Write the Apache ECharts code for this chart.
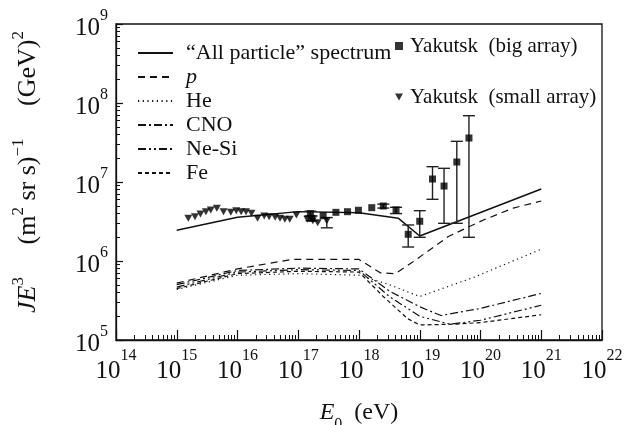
<!DOCTYPE html>
<html>
<head>
<meta charset="utf-8">
<script src="https://cdn.jsdelivr.net/npm/echarts@6/dist/echarts.min.js"></script>
<style>html,body{margin:0;padding:0;background:#fff}#main{width:629px;height:425px}</style>
</head>
<body>
<div id="main"></div>
<script>
var chart = echarts.init(document.getElementById('main'));
var FONT = 'Liberation Serif';

// all values are log10: x = log10(E0 / eV), y = log10(J E^3)
var xDecades = [14, 15, 16, 17, 18, 19, 20, 21, 22];
var yDecades = [5, 6, 7, 8, 9];

var allE = [15, 16, 17, 18, 18.65, 19.0, 21];
var allJ = [6.39, 6.553, 6.625, 6.61, 6.54, 6.316, 6.911];

var pE = [15, 16, 16.9, 18.0, 18.35, 18.6, 18.89, 19.47, 20.05, 20.54, 21];
var pJ = [5.72, 5.90, 6.02, 6.02, 5.85, 5.84, 5.99, 6.31, 6.52, 6.67, 6.76];

var heE = [15, 16, 17, 18, 18.5, 19, 19.88, 21];
var heJ = [5.64, 5.82, 5.84, 5.82, 5.70, 5.55, 5.79, 6.15];

var cnoE = [15, 16, 17, 18, 18.5, 19.0, 19.35, 20, 21];
var cnoJ = [5.70, 5.88, 5.91, 5.90, 5.62, 5.42, 5.31, 5.40, 5.59];

var nesiE = [15, 16, 17, 18, 18.5, 19, 19.5, 20, 21];
var nesiJ = [5.67, 5.86, 5.89, 5.88, 5.55, 5.30, 5.20, 5.25, 5.44];

var feE = [15, 16, 17, 18, 18.4, 18.8, 19.0, 19.55, 20, 21];
var feJ = [5.65, 5.84, 5.87, 5.86, 5.55, 5.27, 5.19, 5.20, 5.22, 5.32];

// Yakutsk big array (squares)
var bigE = [17.20, 17.22, 17.41, 17.62, 17.81, 17.99, 18.21, 18.40, 18.61, 18.81, 19.00, 19.21, 19.40, 19.61, 19.81];
var bigJ = [6.60, 6.54, 6.574, 6.616, 6.624, 6.642, 6.675, 6.696, 6.646, 6.338, 6.503, 7.038, 6.949, 7.253, 7.557];

// Yakutsk small array (triangles)
var smallE = [15.19, 15.30, 15.39, 15.48, 15.56, 15.66, 15.77, 15.89, 15.98, 16.06, 16.14, 16.23, 16.33, 16.44, 16.52, 16.62, 16.70, 16.78, 16.86, 16.97, 17.15, 17.24, 17.32, 17.47];
var smallJ = [6.541, 6.561, 6.595, 6.624, 6.646, 6.667, 6.624, 6.616, 6.637, 6.624, 6.624, 6.604, 6.541, 6.570, 6.561, 6.553, 6.541, 6.528, 6.528, 6.582, 6.528, 6.510, 6.485, 6.510];

// error bars: energy, low, high
var errE = [17.20, 17.22, 17.47, 18.40, 18.61, 18.81, 19.00, 19.21, 19.40, 19.61, 19.81];
var errLo = [6.57, 6.51, 6.42, 6.67, 6.60, 6.177, 6.300, 6.781, 6.477, 6.477, 6.300];
var errHi = [6.63, 6.57, 6.55, 6.72, 6.68, 6.456, 6.637, 7.194, 7.173, 7.515, 7.839];

function zip(a, b) {
  var out = [];
  for (var i = 0; i < a.length; i++) out.push([a[i], b[i]]);
  return out;
}

function minorTicks(decades) {
  var out = [];
  for (var i = 0; i < decades.length - 1; i++) {
    for (var k = 2; k <= 9; k++) out.push(decades[i] + Math.log10(k));
  }
  return out;
}

var errData = [];
for (var i = 0; i < errE.length; i++) errData.push([errE[i], errLo[i], errHi[i]]);

function lineSeries(name, e, j, type, width) {
  return {
    name: name,
    type: 'line',
    data: zip(e, j),
    symbol: 'none',
    lineStyle: {color: '#111', width: width || 1.2, type: type},
    itemStyle: {color: '#111'},
    z: 3
  };
}

var labelRich = function (supPad) {
  return {
    b: {fontSize: 25, fontFamily: FONT, color: '#111', verticalAlign: 'bottom'},
    s: {fontSize: 16, fontFamily: FONT, color: '#111', verticalAlign: 'top', padding: [0, 0, supPad, 0]}
  };
};

var option = {
  animation: false,
  backgroundColor: '#fff',
  grid: {
    left: 116, right: 27, top: 24, bottom: 85,
    outerBoundsMode: 'none',
    show: true, borderColor: '#111', borderWidth: 1.3
  },
  legend: [{
    data: ['\u201cAll particle\u201d spectrum', 'p', 'He', 'CNO', 'Ne-Si', 'Fe'],
    orient: 'vertical',
    left: 132,
    top: 37,
    itemWidth: 35,
    itemHeight: 14,
    itemGap: 2,
    selectedMode: false,
    itemStyle: {opacity: 0},
    formatter: function (name) { return name === 'p' ? '{i|p}' : name; },
    textStyle: {
      fontFamily: FONT, fontSize: 22, color: '#111', lineHeight: 22, padding: [0, 0, 0, 8],
      rich: {i: {fontFamily: FONT, fontSize: 22, fontStyle: 'italic', color: '#111'}}
    }
  }, {
    data: ['Yakutsk  (big array)', 'Yakutsk  (small array)'],
    orient: 'vertical',
    left: 390,
    top: 30,
    itemWidth: 8,
    itemHeight: 8,
    itemGap: 29,
    selectedMode: false,
    textStyle: {fontFamily: FONT, fontSize: 21, color: '#111', lineHeight: 22, padding: [0, 0, 0, 2]}
  }],
  xAxis: [{
    type: 'value',
    min: 14,
    max: 22,
    interval: 1,
    name: '{i|E}{sub|0}{n|  (eV)}',
    nameLocation: 'middle',
    nameGap: 61,
    nameTextStyle: {
      rich: {
        i: {fontFamily: FONT, fontSize: 24, fontStyle: 'italic', color: '#111', verticalAlign: 'top'},
        n: {fontFamily: FONT, fontSize: 24, color: '#111', verticalAlign: 'top'},
        sub: {fontFamily: FONT, fontSize: 16, color: '#111', verticalAlign: 'bottom', padding: [16, 0, 0, 0]}
      }
    },
    axisLine: {show: true, lineStyle: {color: '#111', width: 1.3}},
    axisTick: {show: true, inside: true, length: 10, lineStyle: {color: '#111', width: 1.2}},
    axisLabel: {
      margin: 8,
      formatter: function (v) { return '{b|10}{s|' + v + '}'; },
      rich: labelRich(20)
    },
    splitLine: {show: false}
  }, {
    type: 'value',
    min: 14,
    max: 22,
    position: 'bottom',
    axisLine: {show: false},
    axisLabel: {show: false},
    axisTick: {show: true, inside: true, length: 5, customValues: minorTicks(xDecades), lineStyle: {color: '#111', width: 1}},
    splitLine: {show: false}
  }],
  yAxis: [{
    type: 'value',
    min: 5,
    max: 9,
    interval: 1,
    name: '{i|JE}{s|3}{n|     (m}{s|2}{n| sr s)}{s|\u22121}{n|     (GeV)}{s|2}',
    nameLocation: 'middle',
    nameRotate: 90,
    nameGap: 75,
    nameTextStyle: {
      padding: [0, 0, 0, 20],
      rich: {
        i: {fontFamily: FONT, fontSize: 26, fontStyle: 'italic', color: '#111', verticalAlign: 'bottom'},
        n: {fontFamily: FONT, fontSize: 26, color: '#111', verticalAlign: 'bottom'},
        s: {fontFamily: FONT, fontSize: 17, color: '#111', verticalAlign: 'top', padding: [0, 0, 14, 0]}
      }
    },
    axisLine: {show: true, lineStyle: {color: '#111', width: 1.3}},
    axisTick: {show: true, inside: true, length: 7, lineStyle: {color: '#111', width: 1.2}},
    axisLabel: {
      margin: 8,
      formatter: function (v) { return '{b|10}{s|' + v + '}'; },
      rich: labelRich(17)
    },
    splitLine: {show: false}
  }, {
    type: 'value',
    min: 5,
    max: 9,
    position: 'left',
    axisLine: {show: false},
    axisLabel: {show: false},
    axisTick: {show: true, inside: true, length: 4, customValues: minorTicks(yDecades), lineStyle: {color: '#111', width: 1}},
    splitLine: {show: false}
  }],
  series: [
    lineSeries('\u201cAll particle\u201d spectrum', allE, allJ, 'solid', 1.5),
    lineSeries('p', pE, pJ, [7, 5]),
    lineSeries('He', heE, heJ, [1.2, 3.5]),
    lineSeries('CNO', cnoE, cnoJ, [8, 3, 2, 3]),
    lineSeries('Ne-Si', nesiE, nesiJ, [8, 3, 2, 3, 2, 3]),
    lineSeries('Fe', feE, feJ, [4, 3]),
    {
      type: 'custom',
      data: errData,
      z: 4,
      renderItem: function (params, api) {
        var x = api.value(0);
        var lo = api.coord([x, api.value(1)]);
        var hi = api.coord([x, api.value(2)]);
        var w = 6;
        var st = {stroke: '#222', lineWidth: 1.4};
        return {
          type: 'group',
          children: [
            {type: 'line', shape: {x1: lo[0], y1: lo[1], x2: hi[0], y2: hi[1]}, style: st},
            {type: 'line', shape: {x1: lo[0] - w, y1: lo[1], x2: lo[0] + w, y2: lo[1]}, style: st},
            {type: 'line', shape: {x1: hi[0] - w, y1: hi[1], x2: hi[0] + w, y2: hi[1]}, style: st}
          ]
        };
      }
    },
    {
      name: 'Yakutsk  (big array)',
      type: 'scatter',
      data: zip(bigE, bigJ),
      symbol: 'rect',
      symbolSize: 7,
      itemStyle: {color: '#000'},
      z: 5
    },
    {
      name: 'Yakutsk  (small array)',
      type: 'scatter',
      data: zip(smallE, smallJ),
      symbol: 'path://M0,0L10,0L5,9Z',
      symbolSize: [8, 7],
      itemStyle: {color: '#000'},
      z: 5
    }
  ]
};

chart.setOption(option);
</script>
</body>
</html>
